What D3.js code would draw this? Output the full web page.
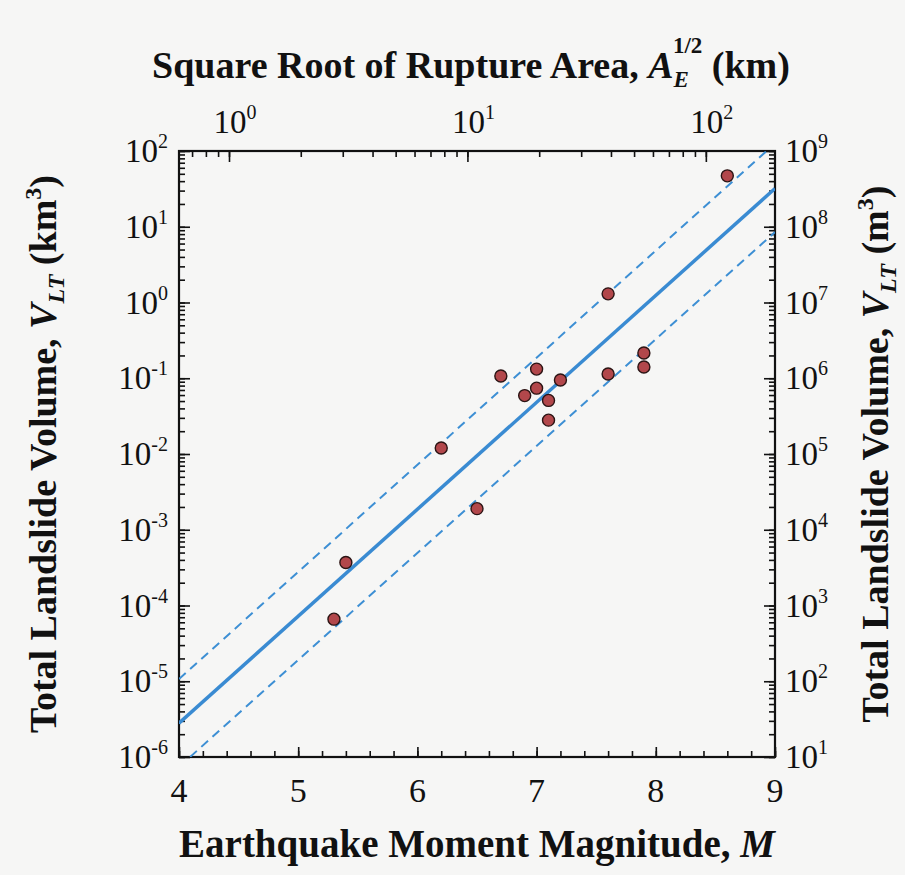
<!DOCTYPE html>
<html>
<head>
<meta charset="utf-8">
<script src="https://cdn.jsdelivr.net/npm/d3@7"></script>
<style>
  body { margin: 0; background: #f6f6f5; }
  text { font-family: "Liberation Serif", "Times New Roman", serif; fill: #111; }
</style>
</head>
<body>
<div id="chart"></div>
<script>
// earthquake magnitude and total landslide volume (km3)
const magnitudes = [5.3, 5.4, 6.2, 6.5, 6.7, 6.9, 7.0, 7.0, 7.1, 7.1, 7.2, 7.6, 7.6, 7.9, 7.9, 8.6];
const volumes = [6.6e-5, 3.7e-4, 0.012, 1.9e-3, 0.107, 0.059, 0.132, 0.074, 0.051, 0.028, 0.095, 1.3, 0.114, 0.215, 0.141, 47];

// fit line and bounds, end points at M = 4 and M = 9
const fitM = [4, 9];
const fitV = [2.8e-6, 32];
const upperV = [1.07e-5, 126];
const lowerV = [7.4e-7, 8.5];

const xTicks = [4, 5, 6, 7, 8, 9];
const yTicksKm = [-6, -5, -4, -3, -2, -1, 0, 1, 2];
const yTicksM = [1, 2, 3, 4, 5, 6, 7, 8, 9];
const topTicks = [0, 1, 2];

const width = 905;
const height = 875;
const margin = { top: 151, right: 130, bottom: 118, left: 179 };

const svg = d3.select('#chart')
  .append('svg')
  .attr('width', width)
  .attr('height', height);

const x = d3.scaleLinear()
  .domain([4, 9])
  .range([margin.left, width - margin.right]);

const y = d3.scaleLog()
  .domain([1e-6, 1e2])
  .range([height - margin.bottom, margin.top]);

const yRight = d3.scaleLog()
  .domain([1e1, 1e9])
  .range([height - margin.bottom, margin.top]);

const xTop = d3.scaleLog()
  .domain([0.617, 195])
  .range([margin.left, width - margin.right]);

const bottom = height - margin.bottom;
const right = width - margin.right;

svg.append('defs').append('clipPath').attr('id', 'clip')
  .append('rect')
  .attr('x', margin.left).attr('y', margin.top)
  .attr('width', right - margin.left).attr('height', bottom - margin.top);

// minor tick helpers
function logMinor(lo, hi) {
  const out = [];
  for (let e = Math.floor(Math.log10(lo)); e <= Math.ceil(Math.log10(hi)); e++) {
    for (let k = 1; k < 10; k++) {
      const v = k * Math.pow(10, e);
      if (v >= lo * 0.999 && v <= hi * 1.001) out.push(v);
    }
  }
  return out;
}

function styleAxis(g) {
  g.select('.domain').remove();
  g.selectAll('line').attr('stroke', '#111').attr('stroke-width', 1.6);
  g.selectAll('text').remove();
}

// bottom axis
svg.append('g')
  .attr('transform', `translate(0,${bottom})`)
  .call(d3.axisBottom(x).tickValues(d3.range(4, 9.01, 0.2)).tickSize(-6))
  .call(styleAxis);
svg.append('g')
  .attr('transform', `translate(0,${bottom})`)
  .call(d3.axisBottom(x).tickValues(xTicks).tickSize(-10))
  .call(styleAxis);

// top axis
svg.append('g')
  .attr('transform', `translate(0,${margin.top})`)
  .call(d3.axisTop(xTop).tickValues(logMinor(0.617, 195)).tickSize(-6))
  .call(styleAxis);
svg.append('g')
  .attr('transform', `translate(0,${margin.top})`)
  .call(d3.axisTop(xTop).tickValues(topTicks.map(e => Math.pow(10, e))).tickSize(-11))
  .call(styleAxis);

// left axis
svg.append('g')
  .attr('transform', `translate(${margin.left},0)`)
  .call(d3.axisLeft(y).tickValues(logMinor(1e-6, 1e2)).tickSize(-6))
  .call(styleAxis);
svg.append('g')
  .attr('transform', `translate(${margin.left},0)`)
  .call(d3.axisLeft(y).tickValues(yTicksKm.map(e => Math.pow(10, e))).tickSize(-11))
  .call(styleAxis);

// right axis
svg.append('g')
  .attr('transform', `translate(${right},0)`)
  .call(d3.axisRight(yRight).tickValues(logMinor(1e1, 1e9)).tickSize(-6))
  .call(styleAxis);
svg.append('g')
  .attr('transform', `translate(${right},0)`)
  .call(d3.axisRight(yRight).tickValues(yTicksM.map(e => Math.pow(10, e))).tickSize(-11))
  .call(styleAxis);

// frame
svg.append('rect')
  .attr('x', margin.left).attr('y', margin.top)
  .attr('width', right - margin.left).attr('height', bottom - margin.top)
  .attr('fill', 'none').attr('stroke', '#111').attr('stroke-width', 2.2);

// tick labels
function powLabel(g, px, py, exp, anchor) {
  const t = g.append('text')
    .attr('x', px).attr('y', py)
    .attr('text-anchor', anchor)
    .attr('font-size', 33);
  t.append('tspan').text('10');
  t.append('tspan').attr('font-size', 20).attr('dy', -14).text(exp < 0 ? '-' + (-exp) : exp);
}

const labels = svg.append('g');
xTicks.forEach(v => {
  labels.append('text')
    .attr('x', x(v)).attr('y', bottom + 45)
    .attr('text-anchor', 'middle')
    .attr('font-size', 34)
    .text(v);
});
yTicksKm.forEach(e => powLabel(labels, margin.left - 11, y(Math.pow(10, e)) + 11, e, 'end'));
yTicksM.forEach(e => powLabel(labels, right + 10, yRight(Math.pow(10, e)) + 11, e, 'start'));
topTicks.forEach(e => powLabel(labels, xTop(Math.pow(10, e)) + 6, margin.top - 18, e, 'middle'));

// fit lines
const line = d3.line()
  .x(d => x(d[0]))
  .y(d => y(d[1]));

const plot = svg.append('g').attr('clip-path', 'url(#clip)');
plot.append('path')
  .attr('d', line(d3.zip(fitM, upperV)))
  .attr('fill', 'none').attr('stroke', '#3d8fd4').attr('stroke-width', 2)
  .attr('stroke-dasharray', '9,6');
plot.append('path')
  .attr('d', line(d3.zip(fitM, lowerV)))
  .attr('fill', 'none').attr('stroke', '#3d8fd4').attr('stroke-width', 2)
  .attr('stroke-dasharray', '9,6');
plot.append('path')
  .attr('d', line(d3.zip(fitM, fitV)))
  .attr('fill', 'none').attr('stroke', '#3a8bd2').attr('stroke-width', 3.5);

// data points
plot.selectAll('circle')
  .data(d3.zip(magnitudes, volumes))
  .join('circle')
    .attr('cx', d => x(d[0]))
    .attr('cy', d => y(d[1]))
    .attr('r', 6)
    .attr('fill', '#b2474b')
    .attr('stroke', '#2b1414')
    .attr('stroke-width', 1.4);

// axis titles
const bt = svg.append('text')
  .attr('x', (margin.left + right) / 2).attr('y', 857)
  .attr('text-anchor', 'middle')
  .attr('font-size', 39).attr('font-weight', 'bold');
bt.append('tspan').text('Earthquake Moment Magnitude, ');
bt.append('tspan').attr('font-style', 'italic').text('M');

const tt = svg.append('text')
  .attr('x', 471).attr('y', 78)
  .attr('text-anchor', 'middle')
  .attr('font-size', 38).attr('font-weight', 'bold');
tt.append('tspan').text('Square Root of Rupture Area, ');
tt.append('tspan').attr('font-style', 'italic').text('A');
tt.append('tspan').attr('font-style', 'italic').attr('font-size', 23).attr('dy', 9).text('E');
tt.append('tspan').attr('font-size', 23).attr('dx', -16).attr('dy', -34).text('1/2');
tt.append('tspan').attr('dy', 25).text(' (km)');

function volTitle(px, unit) {
  const t = svg.append('text')
    .attr('transform', `translate(${px},${(margin.top + bottom) / 2}) rotate(-90)`)
    .attr('text-anchor', 'middle')
    .attr('font-size', 38).attr('font-weight', 'bold');
  t.append('tspan').text('Total Landslide Volume, ');
  t.append('tspan').attr('font-style', 'italic').text('V');
  t.append('tspan').attr('font-style', 'italic').attr('font-size', 24).attr('dy', 8).text('LT');
  t.append('tspan').attr('dy', -8).text(' (' + unit);
  t.append('tspan').attr('font-size', 24).attr('dy', -15).text('3');
  t.append('tspan').attr('dy', 15).text(')');
}
volTitle(56, 'km');
volTitle(888, 'm');
</script>
</body>
</html>
